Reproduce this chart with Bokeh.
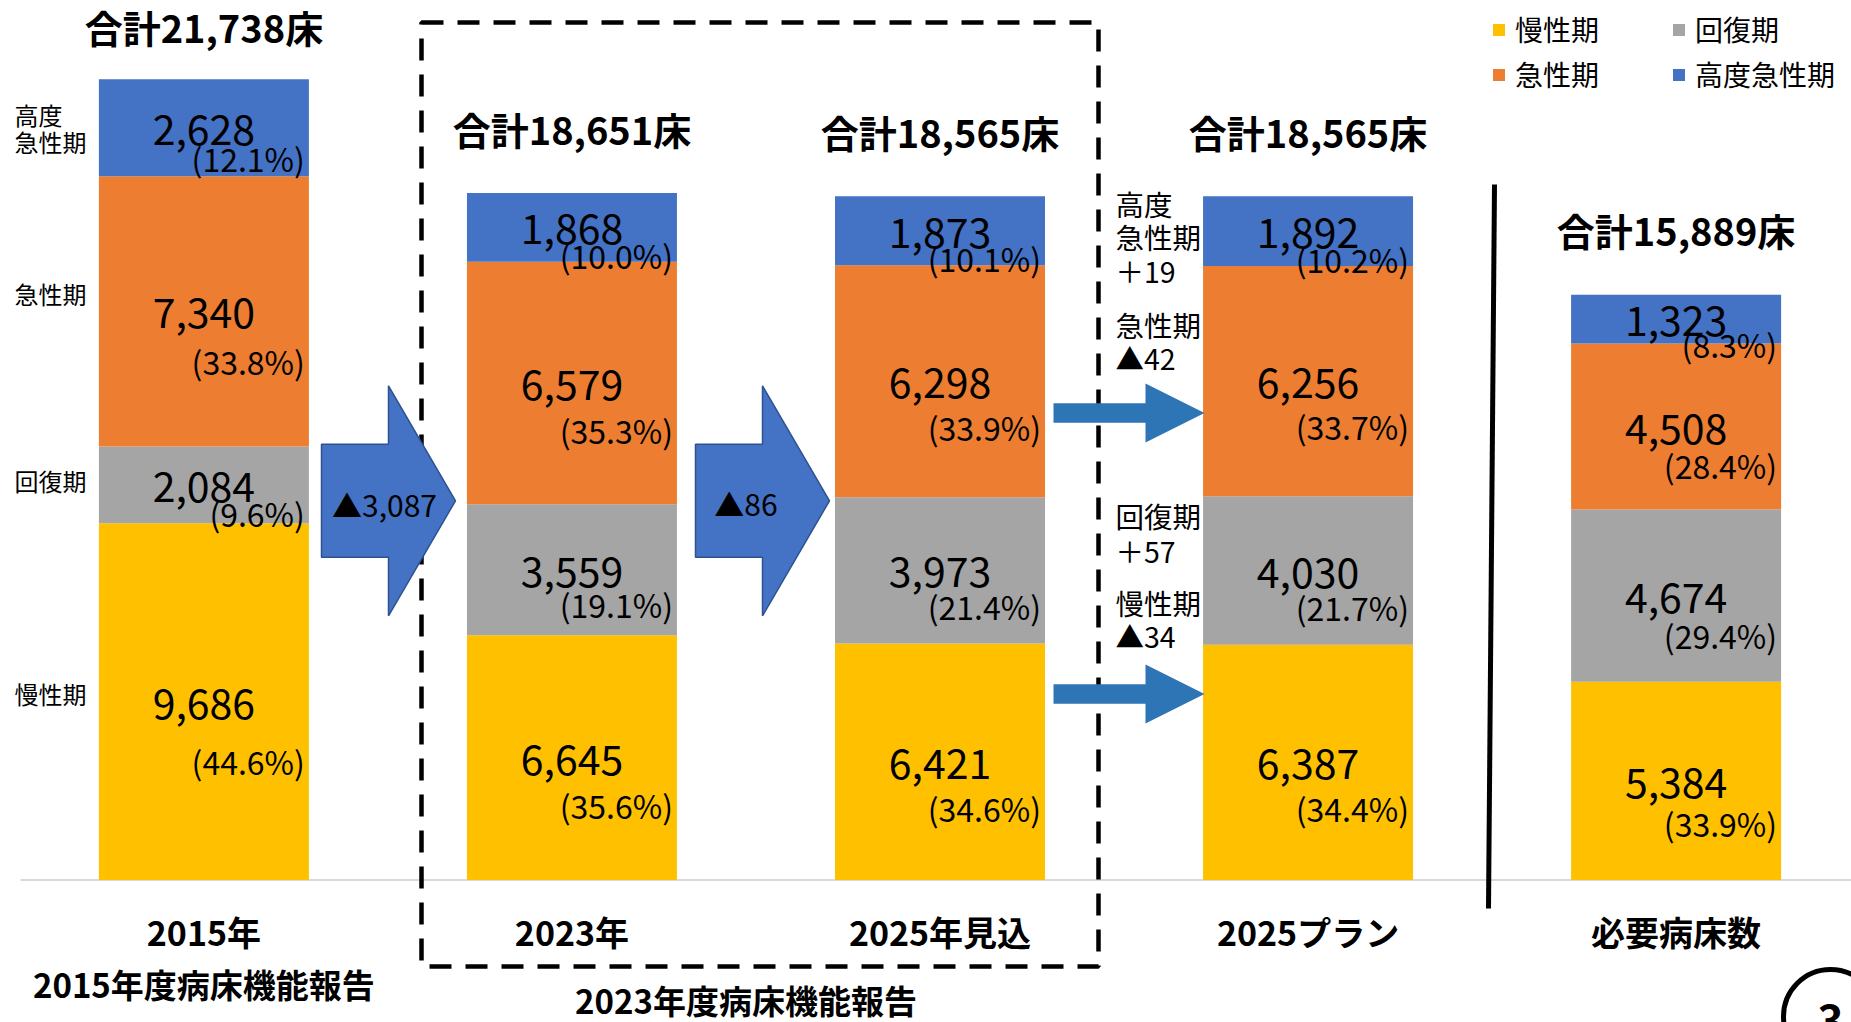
from bokeh.plotting import figure
from bokeh.models import ColumnDataSource, Range1d, Legend, LegendItem
from bokeh.embed import file_html
from bokeh.resources import INLINE
from bokeh.core.properties import value

# ---------------- data ----------------
categories = ["2015年", "2023年", "2025年見込", "2025プラン", "必要病床数"]
series_names = ["慢性期", "回復期", "急性期", "高度急性期"]
chronic = [9686, 6645, 6421, 6387, 5384]       # 慢性期
recovery = [2084, 3559, 3973, 4030, 4674]      # 回復期
acute = [7340, 6579, 6298, 6256, 4508]         # 急性期
high_acute = [2628, 1868, 1873, 1892, 1323]    # 高度急性期
chronic_pct = ["(44.6%)", "(35.6%)", "(34.6%)", "(34.4%)", "(33.9%)"]
recovery_pct = ["(9.6%)", "(19.1%)", "(21.4%)", "(21.7%)", "(29.4%)"]
acute_pct = ["(33.8%)", "(35.3%)", "(33.9%)", "(33.7%)", "(28.4%)"]
high_acute_pct = ["(12.1%)", "(10.0%)", "(10.1%)", "(10.2%)", "(8.3%)"]
totals = [21738, 18651, 18565, 18565, 15889]
group_labels = ["2015年度病床機能報告", "2023年度病床機能報告"]
page_number = "3"

# ---------------- layout / style ----------------
colors = ["#FFC000", "#A5A5A5", "#ED7D31", "#4472C4"]
FONT = "Noto Sans CJK JP"
W, H = 1851, 1022
PX_PER_X = 368.05         # pixels between bar centres
BEDS_PER_PX = 27.15       # beds per vertical pixel
X0_PX = 203.4             # x of first bar centre
BASE_PX = 879.5           # y of the zero line


def dx(px):
    return px / PX_PER_X


def dy(px):
    return px * BEDS_PER_PX


def px_x(page_px):
    return (page_px - X0_PX) / PX_PER_X


def px_y(page_px):
    return (BASE_PX - page_px) * BEDS_PER_PX


x_range = Range1d(-X0_PX / PX_PER_X, (W - X0_PX) / PX_PER_X)
y_range = Range1d(-(H - BASE_PX) * BEDS_PER_PX, BASE_PX * BEDS_PER_PX)

p = figure(width=W, height=H, x_range=x_range, y_range=y_range,
           output_backend="svg", toolbar_location=None,
           x_axis_location=None, y_axis_location=None,
           min_border=0, min_border_left=0, min_border_right=0,
           min_border_top=0, min_border_bottom=0)
p.outline_line_color = None
p.xgrid.visible = False
p.ygrid.visible = False
p.background_fill_color = "white"
p.border_fill_color = "white"

xs = list(range(len(categories)))
bar_w = dx(210)

# zero line
p.segment(x0=[px_x(20)], y0=[0], x1=[x_range.end], y1=[0],
          line_color="#D9D9D9", line_width=2)

# dashed frame around the 2023 report columns
p.quad(left=[px_x(421)], right=[px_x(1098)], top=[px_y(22)], bottom=[px_y(966)],
       fill_alpha=0, line_color="black", line_width=4.5, line_dash="22 14")

# stacked bars
src = ColumnDataSource(dict(x=xs, chronic=chronic, recovery=recovery,
                            acute=acute, high_acute=high_acute))
keys = ["chronic", "recovery", "acute", "high_acute"]
renderers = p.vbar_stack(keys, x="x", width=bar_w, color=colors, source=src,
                         line_color=None)

# segment labels
series_vals = [chronic, recovery, acute, high_acute]
series_pcts = [chronic_pct, recovery_pct, acute_pct, high_acute_pct]
num_x, num_y, num_t = [], [], []
pct_x, pct_y, pct_t = [], [], []
bottoms = [0] * len(xs)
mids_first = []
for vals, pcts in zip(series_vals, series_pcts):
    for i, v in enumerate(vals):
        mid = bottoms[i] + v / 2
        if i == 0:
            mids_first.append(mid)
        num_x.append(xs[i])
        num_y.append(mid - dy(2))
        num_t.append(f"{v:,}")
        pct_x.append(xs[i] + bar_w / 2 - dx(4))
        pct_y.append(mid - dy(20) - 0.11 * v)
        pct_t.append(pcts[i])
        bottoms[i] += v

p.text(x=num_x, y=num_y, text=num_t, text_font=value(FONT),
       text_font_size="41px", text_align="center", text_baseline="middle",
       text_color="black")
p.text(x=pct_x, y=pct_y, text=pct_t, text_font=value(FONT),
       text_font_size="32px", text_align="right", text_baseline="middle",
       text_color="black")

# totals above bars
tot_y = [min(t + dy(65), px_y(26)) for t in totals]
p.text(x=xs, y=tot_y, text=[f"合計{t:,}床" for t in totals],
       text_font=value(FONT), text_font_size="38px", text_font_style="bold",
       text_align="center", text_baseline="middle", text_color="black")

# category labels
p.text(x=xs, y=[px_y(931)] * len(xs), text=categories, text_font=value(FONT),
       text_font_size="34px", text_font_style="bold", text_align="center",
       text_baseline="middle", text_color="black")
p.text(x=[xs[0], (xs[1] + xs[2]) / 2 - dx(10)], y=[px_y(983), px_y(999)],
       text=group_labels, text_font=value(FONT), text_font_size="33px",
       text_font_style="bold", text_align="center", text_baseline="middle",
       text_color="black")

# left labels beside first bar
lab_x = px_x(14)
left_t = ["慢性期", "回復期", "急性期", "高度", "急性期"]
left_y = [mids_first[0] + dy(8), mids_first[1] + dy(4), mids_first[2] + dy(18),
          mids_first[3] + dy(13.5), mids_first[3] - dy(13.5)]
p.text(x=[lab_x] * len(left_t), y=left_y, text=left_t, text_font=value(FONT),
       text_font_size="24px", text_align="left", text_baseline="middle",
       text_color="black")


def arrow(x_left, x_base, x_tip, yc, sh, hh):
    return ([x_left, x_base, x_base, x_tip, x_base, x_base, x_left],
            [yc + sh, yc + sh, yc + hh, yc, yc - hh, yc - sh, yc - sh])


# big block arrows between bars
big_lefts = [px_x(321), px_x(695)]
bxs, bys = [], []
for xl in big_lefts:
    ax, ay = arrow(xl, xl + dx(67), xl + dx(134), px_y(500.3), dy(56.5), dy(115))
    bxs.append(ax)
    bys.append(ay)
p.patches(bxs, bys, fill_color="#4472C4", line_color="#2F528F", line_width=1.5)
diff_text = [f"▲{totals[0] - totals[1]:,}", f"▲{totals[1] - totals[2]:,}"]
p.text(x=[px_x(384), px_x(745.5)], y=[px_y(503), px_y(502)], text=diff_text,
       text_font=value(FONT), text_font_size="30px", text_align="center",
       text_baseline="middle", text_color="black")

# thin arrows into 2025 plan bar
txs, tys = [], []
for yc in [px_y(412.6), px_y(693.5)]:
    ax, ay = arrow(px_x(1053), px_x(1145), px_x(1204), yc, dy(9.75), dy(29.5))
    txs.append(ax)
    tys.append(ay)
p.patches(txs, tys, fill_color="#2E75B6", line_color=None)


def fmt(d):
    return ("＋" if d >= 0 else "▲") + f"{abs(d):,}"


ann_t = ["高度", "急性期", fmt(high_acute[3] - high_acute[2]),
         "急性期", fmt(acute[3] - acute[2]),
         "回復期", fmt(recovery[3] - recovery[2]),
         "慢性期", fmt(chronic[3] - chronic[2])]
ann_page_y = [202.5, 236, 270, 324, 357, 515, 550, 601.5, 635]
p.text(x=[px_x(1115)] * len(ann_t), y=[px_y(v) for v in ann_page_y], text=ann_t,
       text_font=value(FONT), text_font_size="28.5px", text_align="left",
       text_baseline="middle", text_color="black")

# separator line
p.segment(x0=[px_x(1494)], y0=[px_y(184)], x1=[px_x(1488)], y1=[px_y(908)],
          line_color="black", line_width=5)

# page number circle
p.scatter(x=[px_x(1830)], y=[px_y(1016)], size=94, marker="circle",
          fill_color=None, line_color="black", line_width=5)
p.text(x=[px_x(1830)], y=[px_y(1020)], text=[page_number], text_font=value(FONT),
       text_font_size="44px", text_font_style="bold", text_align="center",
       text_baseline="middle", text_color="black")

# legend (filled column by column: 慢性期/急性期 left, 回復期/高度急性期 right)
order = [0, 2, 1, 3]
items = [LegendItem(label=series_names[k], renderers=[renderers[k]]) for k in order]
legend = Legend(items=items, ncols=2, location=(1491, 928),
                glyph_width=15, glyph_height=15, label_standoff=9,
                label_width=151, spacing=5,
                padding=0, margin=0, border_line_alpha=0,
                background_fill_alpha=0,
                label_text_font=FONT, label_text_font_size="28px",
                label_text_color="black")
p.add_layout(legend)

open("out.html", "w").write(file_html(p, INLINE))
